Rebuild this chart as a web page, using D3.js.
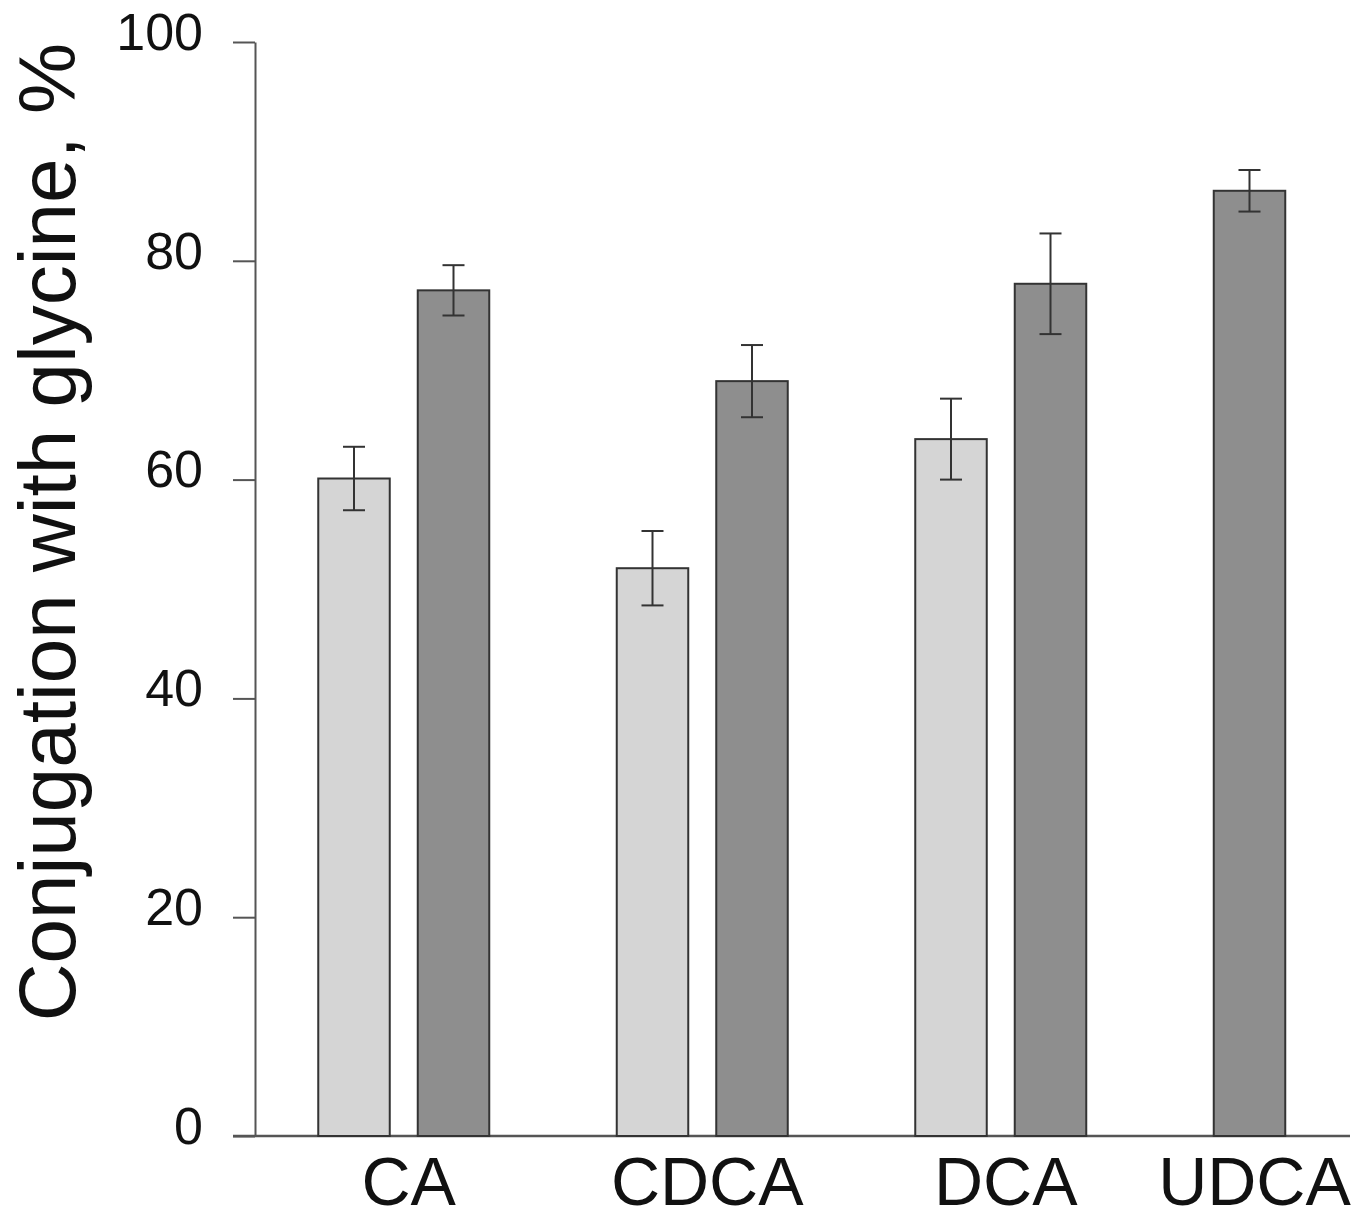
<!DOCTYPE html>
<html>
<head>
<meta charset="utf-8">
<script src="https://cdn.jsdelivr.net/npm/d3@7"></script>
<style>
  body { margin: 0; background: #fff; }
  svg { display: block; font-family: Arial, "Liberation Sans", Helvetica, sans-serif; }
</style>
</head>
<body>
<svg id="chart" width="1365" height="1220"></svg>
<script>
// bile acids on the x axis
var acids = ['CA', 'CDCA', 'DCA', 'UDCA'];
var series = ['light', 'dark'];

// % conjugated with glycine (null = no bar)
var lightMean = [60.1, 51.9, 63.7, null];
var lightErr  = [2.9, 3.4, 3.7, null];
var darkMean  = [77.3, 69.0, 77.9, 86.4];
var darkErr   = [2.3, 3.3, 4.6, 1.9];

var yTicks = [0, 20, 40, 60, 80, 100];

var fills = { light: '#d5d5d5', dark: '#8e8e8e' };

var svg = d3.select('#chart');

var y = d3.scaleLinear().domain([0, 100]).range([1136, 42]);
// each group has 3 slots (two bars + gap); bars fill slots from the left
var slot = d3.scaleLinear().domain([0, 9]).range([354, 1249.5]);
var bw = 71.5;

var rows = [];
acids.forEach(function(a, i) {
  var k = 0;
  if (lightMean[i] != null) rows.push({ acid: a, s: 'light', v: lightMean[i], e: lightErr[i], slot: i * 3 + k++ });
  if (darkMean[i] != null) rows.push({ acid: a, s: 'dark', v: darkMean[i], e: darkErr[i], slot: i * 3 + k++ });
});

// y axis
var yAxis = svg.append('g')
  .attr('transform', 'translate(255,0)')
  .call(d3.axisLeft(y).tickValues(yTicks).tickSize(22).tickPadding(30).tickSizeOuter(0));
yAxis.select('.domain').attr('stroke', '#555').attr('stroke-width', 2);
yAxis.selectAll('.tick line').attr('stroke', '#555').attr('stroke-width', 2);
yAxis.selectAll('.tick text')
  .attr('font-size', 52)
  .attr('fill', '#111')
  .attr('dy', '0.14em');

// baseline
svg.append('line')
  .attr('x1', 233).attr('x2', 1350)
  .attr('y1', y(0)).attr('y2', y(0))
  .attr('stroke', '#555').attr('stroke-width', 2.5);

// bars
svg.append('g').selectAll('rect')
  .data(rows)
  .enter().append('rect')
  .attr('x', function(d) { return slot(d.slot) - bw / 2; })
  .attr('y', function(d) { return y(d.v); })
  .attr('width', bw)
  .attr('height', function(d) { return y(0) - y(d.v); })
  .attr('fill', function(d) { return fills[d.s]; })
  .attr('stroke', '#333')
  .attr('stroke-width', 2);

// error bars
var eb = svg.append('g').attr('stroke', '#333').attr('stroke-width', 2);
rows.forEach(function(d) {
  var cx = slot(d.slot);
  eb.append('line')
    .attr('x1', cx).attr('x2', cx)
    .attr('y1', y(d.v + d.e)).attr('y2', y(d.v - d.e));
  [d.v + d.e, d.v - d.e].forEach(function(v) {
    eb.append('line')
      .attr('x1', cx - 11).attr('x2', cx + 11)
      .attr('y1', y(v)).attr('y2', y(v));
  });
});

// category labels, centred under the bars that are present
svg.append('g').selectAll('text')
  .data(acids)
  .enter().append('text')
  .attr('x', function(a) {
    var r = rows.filter(function(d) { return d.acid === a; });
    return d3.mean(r, function(d) { return slot(d.slot); }) + 5;
  })
  .attr('y', 1205)
  .attr('text-anchor', 'middle')
  .attr('font-size', 68)
  .attr('fill', '#111')
  .text(function(a) { return a; });

// y title
svg.append('text')
  .attr('transform', 'translate(75,532)rotate(-90)')
  .attr('text-anchor', 'middle')
  .attr('font-size', 80)
  .attr('fill', '#111')
  .text('Conjugation with glycine, %');
</script>
</body>
</html>
